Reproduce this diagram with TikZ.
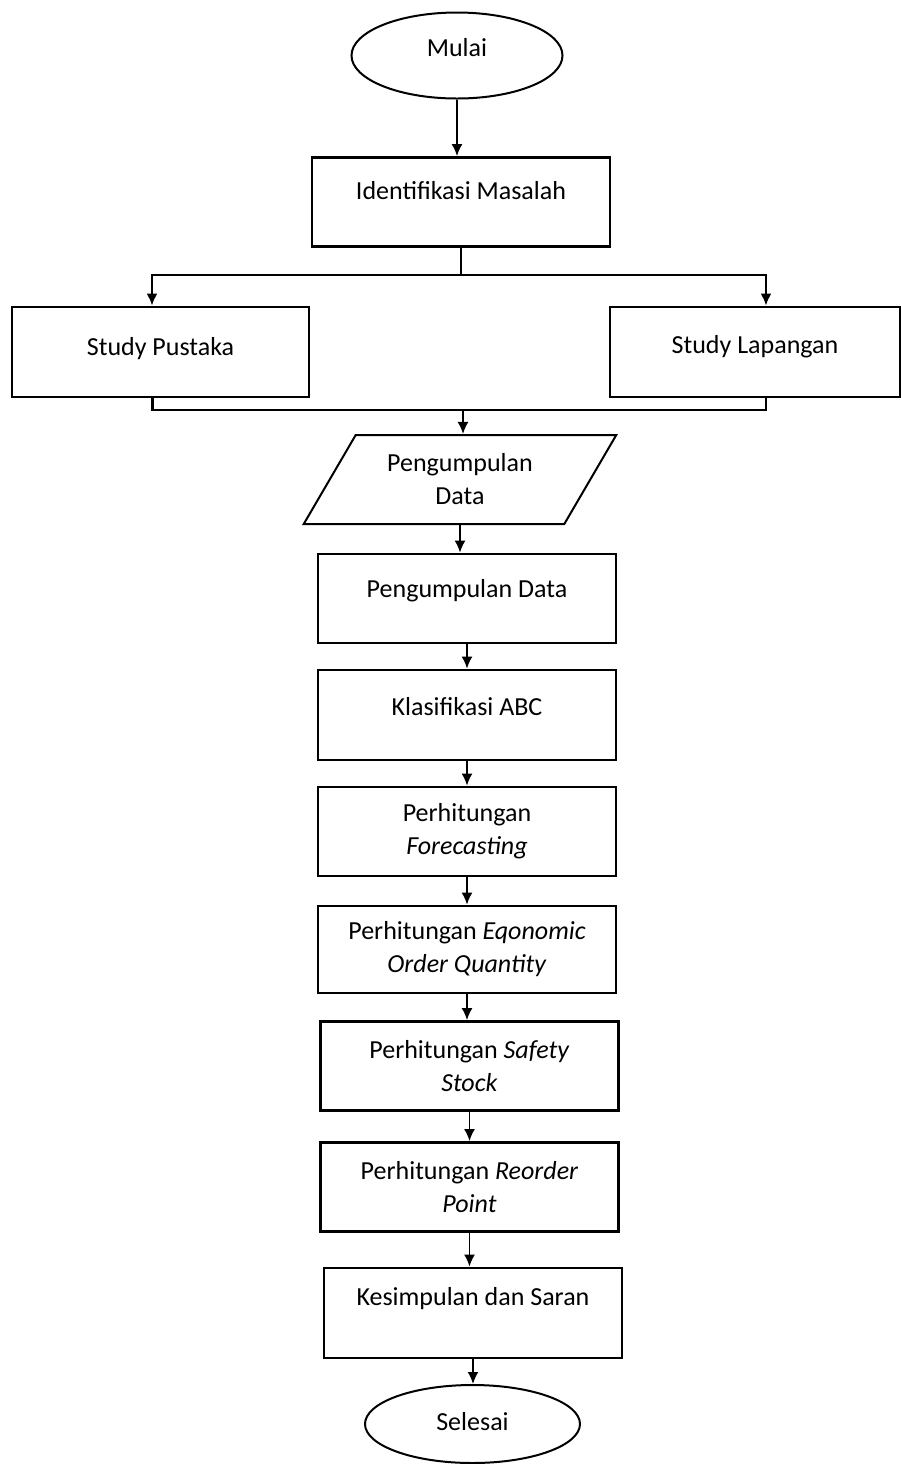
\documentclass[tikz,border=0pt]{standalone}
\usepackage{fontspec}
\setmainfont{Carlito}
\usetikzlibrary{shapes.geometric,arrows.meta}

\begin{document}
\begin{tikzpicture}[x=0.5pt,y=-0.5pt,
  font=\fontsize{13}{16.5}\selectfont,
  proc/.style={draw,line width=1.4pt,rectangle,align=center,minimum width=149pt,minimum height=44.5pt,inner sep=0pt},
  oneline/.style={text height=9pt,text depth=#1},
  term/.style={draw,line width=1pt,ellipse,inner sep=0pt},
  io/.style={draw,line width=1pt,trapezium,trapezium left angle=54.7,trapezium right angle=125.3,trapezium stretches=true,minimum width=156.5pt,minimum height=44.5pt,align=center,inner sep=0pt},
  arr/.style={line width=0.9pt,-{Latex[length=6pt,width=5.5pt]}}]

\useasboundingbox (0,0) rectangle (901,1464);

\node[term,minimum width=105.5pt,minimum height=43pt,oneline=7.6pt] (mulai) at (457,55.5) {Mulai};
\node[proc,oneline=11.6pt] (ident) at (461,202) {Identifikasi Masalah};
\node[proc,minimum width=148.5pt,minimum height=45pt,oneline=5.6pt] (pustaka) at (160.5,352) {Study Pustaka};
\node[proc,minimum width=145pt,minimum height=45pt,oneline=8pt] (lapangan) at (755,352) {Study Lapangan};
\node[io] (data1) at (460,479.5) {Pengumpulan\\Data};
\node[proc,oneline=10pt] (data2) at (467,598.5) {Pengumpulan Data};
\node[proc,minimum height=45pt,oneline=8.6pt] (abc) at (467,715) {Klasifikasi ABC};
\node[proc] (fcst) at (467,831.5) {Perhitungan\\\textit{Forecasting}};
\node[proc,minimum height=43.5pt] (eoq) at (467,949.5) {Perhitungan \textit{Eqonomic}\\\textit{Order Quantity}};
\node[proc] (ss) at (469.5,1066) {Perhitungan \textit{Safety}\\\textit{Stock}};
\node[proc] (rop) at (469.5,1187) {Perhitungan \textit{Reorder}\\\textit{Point}};
\node[proc,minimum height=45pt,oneline=16.6pt] (saran) at (473,1313) {Kesimpulan dan Saran};
\node[term,minimum width=107.5pt,minimum height=39pt,oneline=2.6pt] (selesai) at (472.5,1424) {Selesai};

\draw[arr] (mulai.south) -- (mulai.south |- ident.north);

\coordinate (split) at (461,275);
\draw[line width=1.1pt] (ident.south) -- (split);
\draw[arr,line width=1.1pt] (split) -| ([xshift=-4.25pt]pustaka.north);
\draw[arr,line width=1.1pt] (split) -| ([xshift=5.5pt]lapangan.north);

\coordinate (merge) at (463,410);
\draw[line width=1.1pt] ([xshift=-4pt]pustaka.south) |- (merge) -| ([xshift=5.5pt]lapangan.south);
\draw[arr] (merge) -- (merge |- data1.north);

\foreach \a/\b in {data1/data2, data2/abc, abc/fcst, fcst/eoq, eoq/ss, ss/rop, rop/saran, saran/selesai}
  \draw[arr] (\a.south) -- (\a.south |- \b.north);

\end{tikzpicture}
\end{document}
